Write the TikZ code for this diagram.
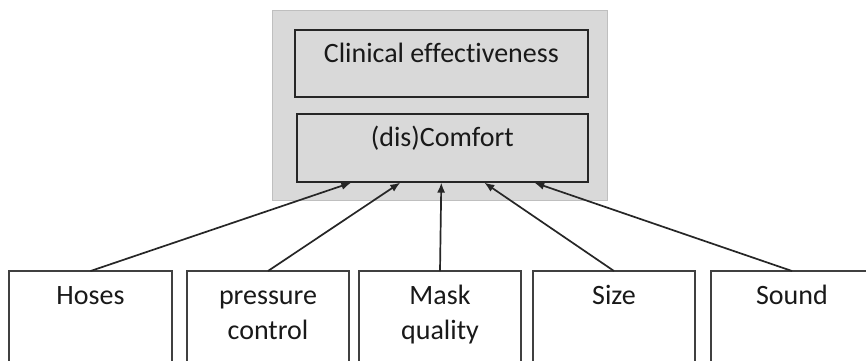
\documentclass[tikz,border=0pt]{standalone}
\usepackage{fontspec}
\setmainfont[Ligatures=NoCommon]{Carlito}
\usetikzlibrary{arrows.meta}
\definecolor{panelgray}{HTML}{D9D9D9}
\definecolor{paneledge}{HTML}{BFBFBF}
\definecolor{boxline}{HTML}{404040}
\tikzset{
  panel/.style={draw=paneledge, line width=0.8pt, fill=panelgray},
  topbox/.style={draw=black!85, line width=1.6pt, fill=panelgray},
  factor/.style={draw=boxline, line width=1.4pt, fill=white},
  lbl/.style={font=\fontsize{28}{35}\selectfont, text=black!90, inner sep=0pt, align=center},
  link/.style={draw=black!85, line width=1.7pt, -{Latex[length=10pt,width=8pt]}}
}
\begin{document}
\begin{tikzpicture}[x=1pt, y=-1pt]
\clip (0,0) rectangle (866,360);
\fill[white] (0,0) rectangle (866,360);

% grey panel holding the two outcome boxes
\draw[panel] (272,10) rectangle (607,200);

\node[topbox, minimum width=293pt, minimum height=67pt, anchor=north west] (clin) at (294,29) {};
\node[topbox, minimum width=291pt, minimum height=68pt, anchor=north west] (comf) at (296,113) {};
\node[lbl, anchor=base] (clintxt) at ([yshift=-33pt]clin.north) {Clinical effectiveness};
\node[lbl, anchor=base] (comftxt) at ([yshift=-33pt]comf.north) {(dis)Comfort};

% factor boxes along the bottom
\foreach \n/\l/\r in {b1/9/172, b2/187/349, b3/359/521, b4/533/695, b5/711/873}{
  \path[factor] (\l,271) rectangle (\r,390);
  \coordinate (\n) at ({(\l+\r)/2},271);
}
% base anchor sits on the last line of the text
\node[lbl, anchor=base] (t1) at ([yshift=-33pt]b1) {Hoses};
\node[lbl, anchor=base] (t2) at ([yshift=-68pt]b2) {pressure\\control};
\node[lbl, anchor=base] (t3) at ([yshift=-68pt]b3) {Mask\\quality};
\node[lbl, anchor=base] (t4) at ([yshift=-33pt]b4) {Size};
\node[lbl, anchor=base] (t5) at ([yshift=-33pt]b5) {Sound};

% influences on comfort
\draw[link] (b1) -- ([xshift=-91pt]comf.south);
\draw[link] (b2) -- ([xshift=-42pt]comf.south);
\draw[link] (b3) -- ([xshift=-1pt]comf.south);
\draw[link] (b4) -- ([xshift=42pt]comf.south);
\draw[link] (b5) -- ([xshift=92pt]comf.south);
\end{tikzpicture}
\end{document}
